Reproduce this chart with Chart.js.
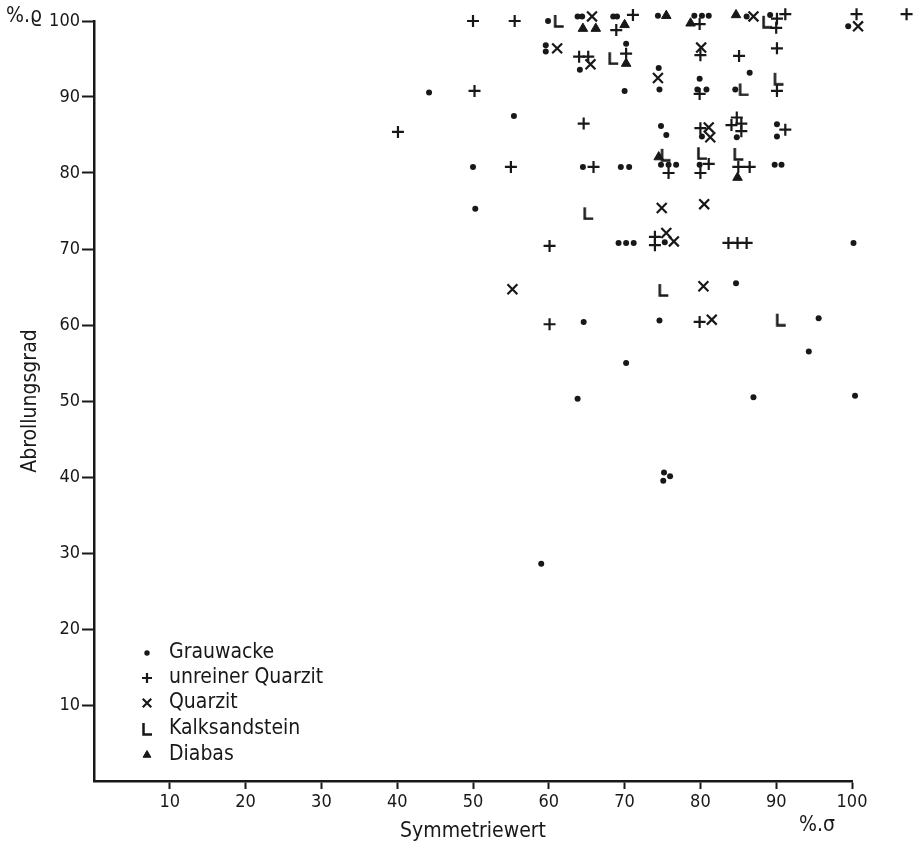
<!DOCTYPE html>
<html>
<head>
<meta charset="utf-8">
<script src="https://cdn.jsdelivr.net/npm/chart.js@4"></script>
<style>
  body { margin: 0; background: #fff; }
  canvas { display: block; }
</style>
</head>
<body>
<canvas id="myChart" width="921" height="842"></canvas>
<script>
let seriesNames = ['Grauwacke', 'unreiner Quarzit', 'Quarzit', 'Kalksandstein', 'Diabas'];
let tickValues = [10, 20, 30, 40, 50, 60, 70, 80, 90, 100];

// [Symmetriewert, Abrollungsgrad]
let grauwacke = [
  [59.9, 100], [63.8, 100.6], [64.4, 100.6], [68.5, 100.6], [69.0, 100.6], [74.4, 100.7],
  [79.2, 100.7], [80.2, 100.7], [81.1, 100.7], [86.1, 100.6], [89.2, 100.8], [99.5, 99.3],
  [59.6, 96.8], [59.6, 96.0], [64.1, 93.6], [70.2, 97.0], [74.5, 93.8],
  [44.2, 90.6], [70.0, 90.8], [74.6, 91.0], [79.9, 92.4], [79.6, 91.0], [80.8, 91.0],
  [86.5, 93.2], [84.6, 91.0],
  [55.4, 87.5], [74.8, 86.2], [75.5, 85.0], [80.2, 84.8], [84.8, 84.7], [90.1, 86.4], [90.1, 84.8],
  [50.0, 80.8], [64.5, 80.8], [69.5, 80.8], [70.6, 80.8], [74.8, 81.1], [75.8, 81.1],
  [76.8, 81.1], [79.9, 81.1], [89.8, 81.1], [90.7, 81.1],
  [50.3, 75.3], [69.2, 70.8], [70.2, 70.8], [71.2, 70.8], [75.3, 70.9], [100.2, 70.8], [84.7, 65.5],
  [64.6, 60.4], [74.6, 60.6], [95.6, 60.9], [70.2, 55.0], [94.3, 56.5], [63.8, 50.3],
  [87.0, 50.5], [100.4, 50.7],
  [75.2, 40.6], [76.0, 40.1], [75.1, 39.5], [59.0, 28.6]
];
let unreinerQuarzit = [
  [50.0, 100], [55.5, 100], [71.1, 100.8], [68.9, 98.8], [79.9, 99.6], [90.1, 100.3],
  [91.2, 100.9], [90.0, 99.1], [100.6, 100.9], [107.2, 100.9],
  [64.0, 95.3], [65.2, 95.3], [70.2, 95.7], [80.0, 95.5], [85.1, 95.4], [90.1, 96.4],
  [50.2, 90.8], [79.9, 90.4], [90.1, 90.8],
  [40.1, 85.4], [64.6, 86.5], [80.0, 85.9], [84.1, 86.3], [84.8, 87.3], [85.4, 86.5],
  [85.4, 85.5], [91.2, 85.7],
  [55.0, 80.8], [65.9, 80.8], [75.8, 80.0], [80.0, 80.0], [81.1, 81.2], [85.0, 80.8], [86.5, 80.8],
  [60.1, 70.4], [74.0, 71.6], [74.0, 70.5], [83.7, 70.8], [84.9, 70.8], [86.1, 70.8],
  [60.1, 60.1], [79.9, 60.4]
];
let quarzit = [
  [65.7, 100.6], [87.0, 100.6], [100.8, 99.3], [61.1, 96.4], [65.5, 94.3], [80.1, 96.5],
  [74.4, 92.5], [81.1, 86.0], [81.3, 84.7],
  [74.9, 75.4], [80.5, 75.9], [75.5, 72.1], [76.5, 71.0], [55.2, 64.7], [80.4, 65.1], [81.5, 60.7]
];
let kalksandstein = [
  [61.3, 100], [88.8, 99.9], [68.5, 95.1], [85.7, 91.0], [90.3, 92.4], [75.4, 82.4],
  [80.2, 82.6], [85.0, 82.5], [65.2, 74.7], [75.1, 64.6], [90.6, 60.7]
];
let diabas = [
  [64.5, 99.0], [66.2, 99.0], [70.0, 99.5], [70.2, 94.4], [75.5, 100.7], [78.7, 99.7],
  [84.7, 100.8], [74.5, 82.1], [84.9, 79.4]
];

let ink = '#181818';
let fontName = "'DejaVu Sans Condensed', 'DejaVu Sans', sans-serif";

// "L" marker for Kalksandstein
let lMark = document.createElement('canvas');
lMark.width = 12;
lMark.height = 14;
let lc = lMark.getContext('2d');
lc.strokeStyle = ink;
lc.lineWidth = 2.5;
lc.beginPath();
lc.moveTo(2.5, 1);
lc.lineTo(2.5, 12.5);
lc.lineTo(11, 12.5);
lc.stroke();

let toPoints = arr => arr.map(p => ({x: p[0], y: p[1]}));

let styles = [
  {pointStyle: 'circle', pointRadius: 3, borderWidth: 0},
  {pointStyle: 'cross', pointRadius: 6, borderWidth: 2.2},
  {pointStyle: 'crossRot', pointRadius: 7, borderWidth: 2.2},
  {pointStyle: lMark, pointRadius: 6, borderWidth: 0},
  {pointStyle: 'triangle', pointRadius: 5.5, borderWidth: 1}
];
let allSeries = [grauwacke, unreinerQuarzit, quarzit, kalksandstein, diabas];

let datasets = allSeries.map((s, i) => ({
  label: seriesNames[i],
  data: toPoints(s),
  pointStyle: styles[i].pointStyle,
  pointRadius: styles[i].pointRadius,
  pointHoverRadius: styles[i].pointRadius,
  borderWidth: styles[i].borderWidth,
  backgroundColor: ink,
  borderColor: ink,
  clip: false
}));

// legend inside the plot + the unit marks
let savedArea = null;
let extras = {
  id: 'extras',
  beforeDatasetsDraw(chart) {
    // let marks past the axis ends (x > 100) still be drawn
    savedArea = chart.chartArea;
    chart.chartArea = Object.assign({}, savedArea, {top: 0, right: chart.width});
  },
  afterDatasetsDraw(chart) {
    chart.chartArea = savedArea;
  },
  afterDraw(chart) {
    let ctx = chart.ctx;
    ctx.save();
    ctx.fillStyle = ink;
    ctx.strokeStyle = ink;
    ctx.font = "21px " + fontName;
    ctx.textBaseline = 'middle';
    let rowY = [653, 678, 703, 729, 755];
    datasets.forEach((d, i) => {
      let style = styles[i];
      ctx.lineWidth = style.borderWidth || 1;
      Chart.helpers.drawPoint(ctx, {
        pointStyle: style.pointStyle,
        radius: style.pointStyle === 'circle' ? 2.7 : style.pointRadius - 1,
        rotation: 0,
        borderWidth: style.borderWidth
      }, 147, rowY[i]);
      ctx.fillText(d.label, 169, rowY[i]);
    });
    ctx.fillText('%.\u03f1', 6, 17);
    ctx.fillText('%.\u03c3', 799, 826);
    ctx.restore();
  }
};

let myChart = document.getElementById('myChart').getContext('2d');

let chart = new Chart(myChart, {
  type: 'scatter',
  data: { datasets: datasets },
  plugins: [extras],
  options: {
    responsive: false,
    animation: false,
    layout: { padding: { top: 21, right: 69, left: 0, bottom: 0 } },
    plugins: {
      legend: { display: false },
      tooltip: { enabled: false }
    },
    scales: {
      x: {
        type: 'linear',
        min: 0,
        max: 100,
        afterBuildTicks: axis => { axis.ticks = tickValues.map(v => ({value: v})); },
        afterFit: axis => { axis.height = 61; },
        border: { display: true, color: ink, width: 2.5 },
        grid: { drawOnChartArea: false, drawTicks: true, tickLength: 8, tickWidth: 2, tickColor: ink },
        ticks: { color: ink, padding: 3, maxRotation: 0, font: { family: fontName, size: 18 } },
        title: {
          display: true,
          text: 'Symmetriewert',
          color: ink,
          padding: { top: 0, bottom: 0 },
          font: { family: fontName, size: 21, lineHeight: 1.0 }
        }
      },
      y: {
        type: 'linear',
        min: 0,
        max: 100,
        afterBuildTicks: axis => { axis.ticks = tickValues.map(v => ({value: v})); },
        afterFit: axis => { axis.width = 94; },
        border: { display: true, color: ink, width: 2.5 },
        grid: { drawOnChartArea: false, drawTicks: true, tickLength: 12, tickWidth: 2, tickColor: ink },
        ticks: { color: ink, padding: 2, font: { family: fontName, size: 18 } },
        title: {
          display: true,
          text: 'Abrollungsgrad',
          color: ink,
          padding: { top: 19, bottom: 0 },
          font: { family: fontName, size: 21, lineHeight: 1.1 }
        }
      }
    }
  }
});
</script>
</body>
</html>
